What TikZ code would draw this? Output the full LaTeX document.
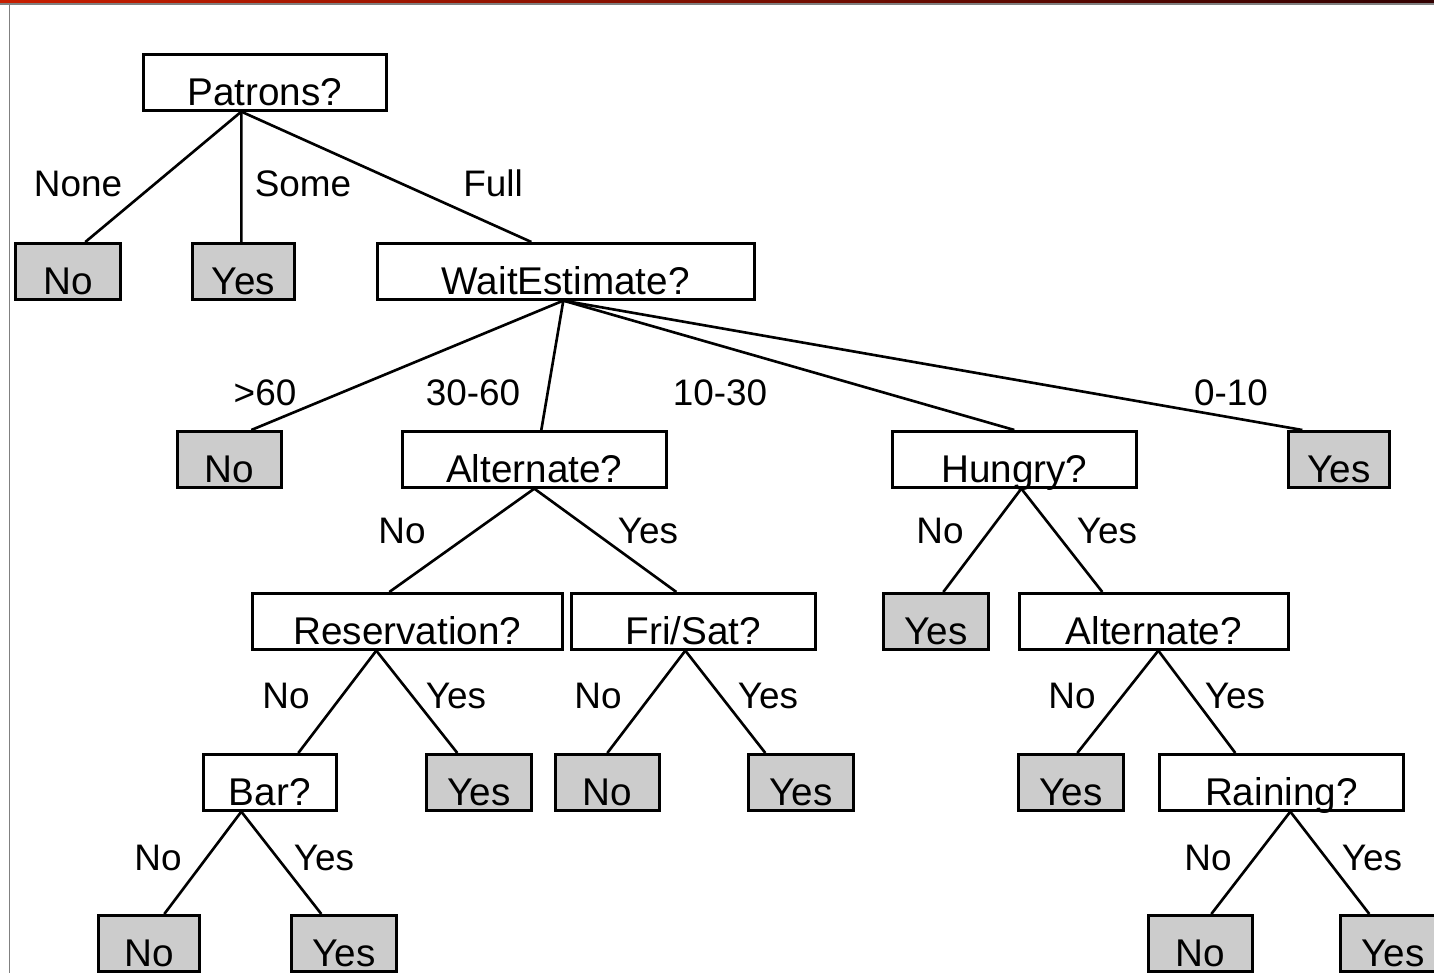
\documentclass[tikz,border=0pt]{standalone}
\usepackage{fontspec}
\setmainfont{Liberation Sans}
\usetikzlibrary{calc}
\definecolor{leafgray}{HTML}{CCCCCC}
\definecolor{barred}{RGB}{200,30,0}
\definecolor{bardark}{RGB}{50,0,0}
\tikzstyle{test} = [rectangle, draw=black, line width=0.75pt, fill=white, anchor=north west, inner sep=0pt, text height=0.51cm, text depth=0.05cm, minimum height=0.56cm, font=\fontsize{11}{11}\selectfont]
\tikzstyle{leaf} = [test, fill=leafgray, minimum width=1.05cm]
\tikzstyle{lbl}  = [anchor=base, inner sep=0pt, font=\fontsize{10.5}{10.5}\selectfont]

\begin{document}
\begin{tikzpicture}[branch/.style={line width=0.75pt}]
\clip (0,0) rectangle (14.34,-9.73);
\fill[white] (0,0) rectangle (14.34,-9.73);
% slide frame
\shade[left color=barred, right color=bardark] (0,0) rectangle (14.34,-0.035);
\fill[gray] (0,-0.035) rectangle (14.34,-0.05);
\fill[gray] (0.085,-0.045) rectangle (0.105,-9.73);

% Define nodes
\node[test, minimum width=2.43cm] (pat)  at (1.42,-0.53) {Patrons?};
\node[leaf]                       (noA)  at (0.14,-2.42) {No};
\node[leaf, minimum width=1.02cm] (yesA) at (1.91,-2.42) {Yes};
\node[test, minimum width=3.77cm] (wait) at (3.76,-2.42) {WaitEstimate?};

\node[leaf, minimum width=1.04cm] (noB)  at (1.76,-4.30) {No};
\node[test, minimum width=2.64cm] (alt)  at (4.01,-4.30) {Alternate?};
\node[test, minimum width=2.44cm] (hun)  at (8.91,-4.30) {Hungry?};
\node[leaf, minimum width=1.01cm] (yesB) at (12.87,-4.30) {Yes};

\node[test, minimum width=3.10cm] (res)  at (2.51,-5.92) {Reservation?};
\node[test, minimum width=2.44cm] (fri)  at (5.70,-5.92) {Fri/Sat?};
\node[leaf]                       (yesC) at (8.82,-5.92) {Yes};
\node[test, minimum width=2.69cm] (alt2) at (10.18,-5.92) {Alternate?};

\node[test, minimum width=1.33cm] (bar)  at (2.02,-7.53) {Bar?};
\node[leaf]                       (yesD) at (4.25,-7.53) {Yes};
\node[leaf, minimum width=1.04cm] (noE)  at (5.54,-7.53) {No};
\node[leaf]                       (yesE) at (7.47,-7.53) {Yes};
\node[leaf]                       (yesF) at (10.17,-7.53) {Yes};
\node[test, minimum width=2.44cm] (rain) at (11.58,-7.53) {Raining?};

\node[leaf, minimum width=1.01cm] (noG)  at (0.97,-9.14) {No};
\node[leaf]                       (yesG) at (2.90,-9.14) {Yes};
\node[leaf, minimum width=1.04cm] (noH)  at (11.47,-9.14) {No};
\node[leaf]                       (yesH) at (13.39,-9.14) {Yes};

% Edges
\draw[branch] ([xshift=-2.35mm]pat.south) -- ([xshift=1.75mm]noA.north);
\draw[branch] ([xshift=-2.35mm]pat.south) -- ([xshift=-0.2mm]yesA.north);
\draw[branch] ([xshift=-2.35mm]pat.south) -- ([xshift=-3.45mm]wait.north);

\draw[branch] ([xshift=-0.25mm]wait.south) -- ([xshift=2.2mm]noB.north);
\draw[branch] ([xshift=-0.25mm]wait.south) -- ([xshift=0.7mm]alt.north);
\draw[branch] ([xshift=-0.25mm]wait.south) -- (hun.north);
\draw[branch] ([xshift=-0.25mm]wait.south) -- ([xshift=-3.65mm]yesB.north);

\draw[branch] (alt.south) -- ([xshift=-1.8mm]res.north);
\draw[branch] (alt.south) -- ([xshift=-1.7mm]fri.north);
\draw[branch] ([xshift=0.7mm]hun.south) -- ([xshift=0.75mm]yesC.north);
\draw[branch] ([xshift=0.7mm]hun.south) -- ([xshift=-5.15mm]alt2.north);

\draw[branch] ([xshift=-3.1mm]res.south) -- ([xshift=2.85mm]bar.north);
\draw[branch] ([xshift=-3.1mm]res.south) -- ([xshift=-2.15mm]yesD.north);
\draw[branch] ([xshift=-0.8mm]fri.south) -- (noE.north);
\draw[branch] ([xshift=-0.8mm]fri.south) -- ([xshift=-3.55mm]yesE.north);
\draw[branch] ([xshift=0.45mm]alt2.south) -- ([xshift=0.65mm]yesF.north);
\draw[branch] ([xshift=0.45mm]alt2.south) -- ([xshift=-4.6mm]rain.north);

\draw[branch] ([xshift=-2.85mm]bar.south) -- ([xshift=1.55mm]noG.north);
\draw[branch] ([xshift=-2.85mm]bar.south) -- ([xshift=-2.25mm]yesG.north);
\draw[branch] ([xshift=0.9mm]rain.south) -- ([xshift=1.1mm]noH.north);
\draw[branch] ([xshift=0.9mm]rain.south) -- ([xshift=-2.35mm]yesH.north);

% Branch labels
\node[lbl] (lNone) at (0.78,-1.97) {None};
\node[lbl] (lSome) at (3.03,-1.97) {Some};
\node[lbl] (lFull) at (4.93,-1.97) {Full};

\node[lbl] (lw1) at (2.65,-4.05) {>60};
\node[lbl] (lw2) at (4.73,-4.05) {30-60};
\node[lbl] (lw3) at (7.20,-4.05) {10-30};
\node[lbl] (lw4) at (12.31,-4.05) {0-10};

\node[lbl] (la0) at (4.02,-5.43) {No};
\node[lbl] (la1) at (6.48,-5.43) {Yes};
\node[lbl] (lh0) at (9.40,-5.43) {No};
\node[lbl] (lh1) at (11.07,-5.43) {Yes};

\node[lbl] (lr0) at (2.86,-7.08) {No};
\node[lbl] (lr1) at (4.56,-7.08) {Yes};
\node[lbl] (lf0) at (5.98,-7.08) {No};
\node[lbl] (lf1) at (7.68,-7.08) {Yes};
\node[lbl] (lb0) at (10.72,-7.08) {No};
\node[lbl] (lb1) at (12.35,-7.08) {Yes};

\node[lbl] (lg0) at (1.58,-8.70) {No};
\node[lbl] (lg1) at (3.24,-8.70) {Yes};
\node[lbl] (lk0) at (12.08,-8.70) {No};
\node[lbl] (lk1) at (13.72,-8.70) {Yes};

\end{tikzpicture}
\end{document}
